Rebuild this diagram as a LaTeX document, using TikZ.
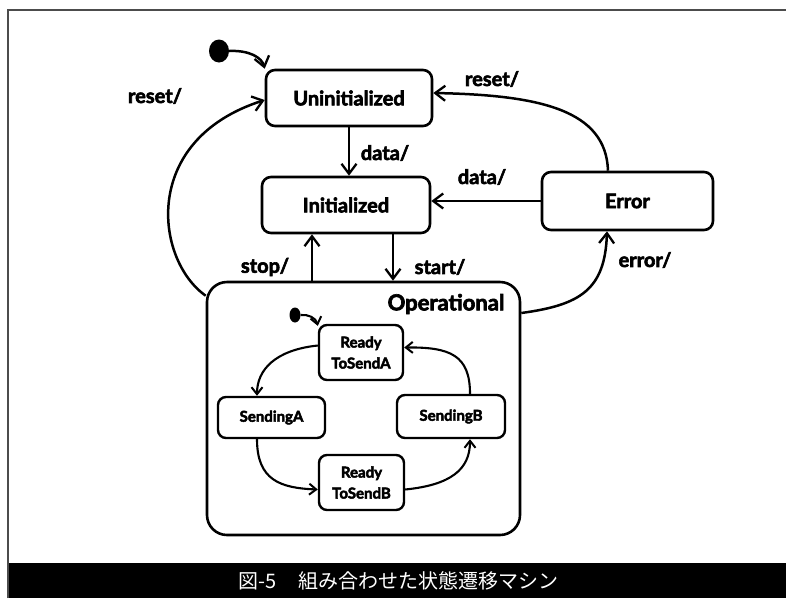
\documentclass[tikz,border=0pt]{standalone}
\usepackage{fontspec}
\setmainfont{Lato}[BoldFeatures={FakeBold=3}]
\newfontfamily\jpfont{Noto Sans CJK JP}
\usetikzlibrary{arrows.meta,calc,shapes.geometric}
\begin{document}
\begin{tikzpicture}[x=1pt,y=-1pt,
  state/.style={draw,line width=2.6pt,rounded corners=9pt,inner sep=0pt,align=center,font=\fontsize{20}{22}\selectfont\bfseries},
  sub/.style={draw,line width=2.4pt,rounded corners=8pt,inner sep=0pt,align=center,font=\fontsize{15}{21}\selectfont\bfseries},
  lbl/.style={inner sep=0pt,font=\fontsize{20}{22}\selectfont\bfseries},
  arr/.style={line width=2.5pt,-{Straight Barb[length=10pt,width=15pt,line width=2.3pt]}},
  sarr/.style={line width=2.1pt,-{Straight Barb[length=7pt,width=11pt,line width=2pt]}},
  dot/.style={ellipse,fill,inner sep=0pt}]
\useasboundingbox (0,0) rectangle (786,598);
% frame and caption bar
\fill[black] (8,563) rectangle (786,598);
\draw[black!70,line width=1.5pt] (8,598) -- (8,10) -- (786,10);
\node[anchor=west,text=white,inner sep=0pt,font=\jpfont\fontsize{20}{20}\selectfont] (cap) at (238,581) {図-5\hspace{22pt}組み合わせた状態遷移マシン};
% states
\node[dot,minimum width=20pt,minimum height=23pt] (start) at (219,51) {};
\node[state,minimum width=166pt,minimum height=56pt] (uninit) at (349,98) {Uninitialized};
\node[state,minimum width=168pt,minimum height=56pt] (init) at (346,205) {Initialized};
\node[state,minimum width=171pt,minimum height=58pt] (error) at (627.5,201) {Error};
\node[draw,line width=2.6pt,rounded corners=20pt,minimum width=313pt,minimum height=253pt,inner sep=0pt] (op) at (363.5,408.5) {};
\node[inner sep=0pt,font=\fontsize{22}{24}\selectfont\bfseries] (optitle) at (446,304) {Operational};
\node[dot,minimum width=11pt,minimum height=15pt] (idot) at (295,315) {};
\node[sub,minimum width=84pt,minimum height=55pt] (rtsa) at (361,352.5) {Ready\\ToSendA};
\node[sub,minimum width=107pt,minimum height=41pt] (senda) at (271.5,417.5) {SendingA};
\node[sub,minimum width=108pt,minimum height=43pt] (sendb) at (451,416.5) {SendingB};
\node[sub,minimum width=85pt,minimum height=55pt] (rtsb) at (361.5,482.5) {Ready\\ToSendB};
% labels
\node[lbl] (lreset1) at (155,96) {reset/};
\node[lbl] (lreset2) at (492,79) {reset/};
\node[lbl] (ldata1) at (385,153) {data/};
\node[lbl] (ldata2) at (482,177) {data/};
\node[lbl] (lstop) at (265,267) {stop/};
\node[lbl] (lstart) at (440,267) {start/};
\node[lbl] (lerror) at (645,260) {error/};
% main transitions
\draw[arr] (start.east) .. controls (250,50) and (262,58) .. (uninit.north west);
\draw[arr] (uninit.south) -- (init.north -| uninit.south);
\draw[arr] (error.west) -- (error.west -| init.east);
\draw[arr] ($(error.north)+(-19.5,0)$) .. controls (606,110) and (540,95) .. ($(uninit.east)+(0,-5)$);
\draw[arr] ($(op.north west)+(0,15)$) .. controls (155,260) and (140,140) .. ($(uninit.west)+(0,2)$);
\draw[arr] ($(op.north)+(-51.5,0)$) -- ($(init.south)+(-34,0)$);
\draw[arr] ($(init.south)+(47,0)$) -- ($(op.north)+(29.5,0)$);
\draw[arr] ($(op.east)+(0,-95.5)$) .. controls (580,305) and (605,290) .. ($(error.south)+(-20.5,0)$);
% inner transitions
\draw[sarr] (idot.east) .. controls (308,314) and (316,318) .. ($(rtsa.north west)+(0,2)$);
\draw[sarr] ($(rtsa.west)+(0,-7)$) .. controls (275,350) and (257,370) .. ($(senda.north)+(-14.5,0)$);
\draw[sarr] ($(senda.south)+(-14.5,0)$) .. controls (257,480) and (280,488) .. ($(rtsb.west)+(0,7)$);
\draw[sarr] ($(rtsb.east)+(0,7)$) .. controls (450,485) and (470,470) .. ($(sendb.south)+(19,0)$);
\draw[sarr] ($(sendb.north)+(19,0)$) .. controls (470,355) and (450,347) .. ($(rtsa.east)+(0,-5)$);
\end{tikzpicture}
\end{document}
